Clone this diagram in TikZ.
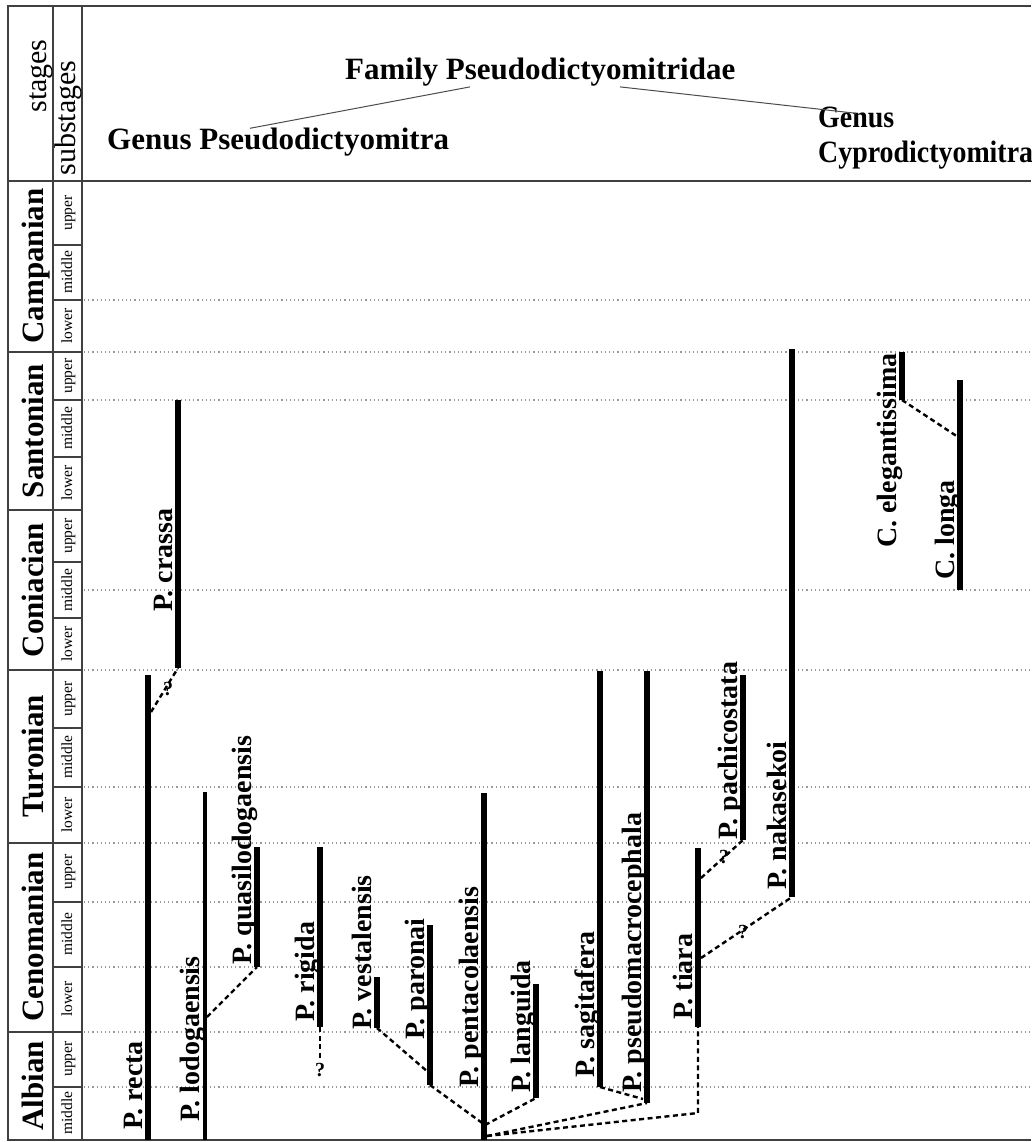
\documentclass[tikz,border=0pt]{standalone}
\usepackage{fontspec}
\setmainfont{Liberation Serif}

\tikzset{
  frame/.style={line width=2.2pt,black!75},
  level/.style={gray!80,line width=1.1pt,dash pattern=on 1.2pt off 3pt},
  bar/.style={line width=5.5pt},
  link/.style={line width=2.4pt,dash pattern=on 5pt off 3.5pt},
  tie/.style={line width=1pt,black!70},
  head/.style={inner sep=0pt,font=\fontsize{31}{33}\selectfont\bfseries},
  colhead/.style={rotate=90,anchor=base,inner sep=0pt,font=\fontsize{30}{32}\selectfont},
  stagelbl/.style={rotate=90,anchor=base,inner sep=0pt,font=\fontsize{31}{33}\selectfont\bfseries},
  sublbl/.style={rotate=90,anchor=base,inner sep=0pt,font=\fontsize{15.5}{16}\selectfont},
  taxon/.style={rotate=90,anchor=base west,inner sep=0pt,font=\fontsize{28}{30}\selectfont\bfseries},
  query/.style={inner sep=0pt,font=\fontsize{20}{21}\selectfont\bfseries},
}

\begin{document}
\begin{tikzpicture}[x=1pt,y=-1pt]
\useasboundingbox (0,0) rectangle (1031,1142);
\fill[white] (0,0) rectangle (1031,1142);

\foreach \y in {300,352,400,590,670,787,843,902,967,1032,1087}
  \draw[level] (84,\y) -- (1031,\y);

\draw[frame] (1031,6) -- (8,6) -- (8,1140) -- (1031,1140);
\draw[frame] (53,6) -- (53,1140);
\draw[frame] (82,6) -- (82,1140);
\draw[frame] (8,181) -- (1031,181);
\foreach \y in {352,510,670,843,1032}
  \draw[frame] (8,\y) -- (82,\y);
\foreach \y in {245,300,400,457,562,618,728,787,902,967,1087}
  \draw[frame] (53,\y) -- (82,\y);

\node[colhead] (stages) at (46,76) {stages};
\node[colhead] (substages) at (75,118) {substages};

\foreach \n/\y in {Campanian/266,Santonian/431,Coniacian/590,Turonian/756,Cenomanian/937,Albian/1086}
  \node[stagelbl] (\n) at (43,\y) {\n};

\foreach \y/\s in {213/upper,272/middle,326/lower,376/upper,428/middle,483/lower,
                   536/upper,590/middle,644/lower,699/upper,757/middle,815/lower,
                   872/upper,934/middle,999/lower,1059/upper,1113/middle}
  \node[sublbl] (sub-\y) at (72,\y) {\s};

\node[head,anchor=base west] (family) at (345,80) {Family Pseudodictyomitridae};
\node[head,anchor=base west] (gen1) at (107,150) {Genus Pseudodictyomitra};
\node[head,anchor=base west] (gen2a) at (818,128) {\scalebox{0.9}[1]{Genus}};
\node[head,anchor=base west] (gen2b) at (818,163) {\scalebox{0.9}[1]{Cyprodictyomitra}};
\draw[tie] ([xshift=125pt]family.south west) -- ([xshift=143pt]gen1.north west);
\draw[tie] ([xshift=275pt]family.south west) -- ([xshift=38pt,yshift=-6pt]gen2a.north west);

\coordinate (recta-t) at (148,675);   \coordinate (recta-b) at (148,1140);
\coordinate (crassa-t) at (178,400);  \coordinate (crassa-b) at (178,668);
\coordinate (lodo-t) at (205,792);    \coordinate (lodo-b) at (205,1140);
\coordinate (quasi-t) at (257,847);   \coordinate (quasi-b) at (257,967);
\coordinate (rigida-t) at (320,847);  \coordinate (rigida-b) at (320,1027);
\coordinate (vest-t) at (377,977);    \coordinate (vest-b) at (377,1028);
\coordinate (paronai-t) at (430,925); \coordinate (paronai-b) at (430,1085);
\coordinate (penta-t) at (484,793);   \coordinate (penta-b) at (484,1140);
\coordinate (lang-t) at (536,984);    \coordinate (lang-b) at (536,1098);
\coordinate (sagit-t) at (600,671);   \coordinate (sagit-b) at (600,1087);
\coordinate (pseudo-t) at (647,671);  \coordinate (pseudo-b) at (647,1103);
\coordinate (tiara-t) at (698,848);   \coordinate (tiara-b) at (698,1027);
\coordinate (pachi-t) at (743,675);   \coordinate (pachi-b) at (743,840);
\coordinate (naka-t) at (792,349);    \coordinate (naka-b) at (792,897);
\coordinate (eleg-t) at (902,352);    \coordinate (eleg-b) at (902,400);
\coordinate (longa-t) at (960,380);   \coordinate (longa-b) at (960,590);

\draw[bar] (recta-t) -- (recta-b);
\draw[bar] (crassa-t) -- (crassa-b);
\draw[bar,line width=3.8pt] (lodo-t) -- (lodo-b);
\draw[bar] (quasi-t) -- (quasi-b);
\draw[bar] (rigida-t) -- (rigida-b);
\draw[bar] (vest-t) -- (vest-b);
\draw[bar] (paronai-t) -- (paronai-b);
\draw[bar] (penta-t) -- (penta-b);
\draw[bar] (lang-t) -- (lang-b);
\draw[bar] (sagit-t) -- (sagit-b);
\draw[bar] (pseudo-t) -- (pseudo-b);
\draw[bar] (tiara-t) -- (tiara-b);
\draw[bar] (pachi-t) -- (pachi-b);
\draw[bar] (naka-t) -- (naka-b);
\draw[bar] (eleg-t) -- (eleg-b);
\draw[bar] (longa-t) -- (longa-b);

\node[taxon] (recta) at (142,1130) {P. recta};
\node[taxon] (crassa) at (172,612) {P. crassa};
\node[taxon] (lodo) at (199,1122) {P. lodogaensis};
\node[taxon] (quasi) at (251,965) {P. quasilodogaensis};
\node[taxon] (rigida) at (314,1022) {P. rigida};
\node[taxon] (vest) at (371,1030) {P. vestalensis};
\node[taxon] (paronai) at (424,1040) {P. paronai};
\node[taxon] (penta) at (478,1088) {P. pentacolaensis};
\node[taxon] (lang) at (530,1093) {P. languida};
\node[taxon] (sagit) at (594,1078) {P. sagitafera};
\node[taxon] (pseudo) at (641,1093) {P. pseudomacrocephala};
\node[taxon] (tiara) at (692,1020) {P. tiara};
\node[taxon] (pachi) at (737,840) {P. pachicostata};
\node[taxon] (naka) at (786,890) {P. nakasekoi};
\node[taxon] (eleg) at (896,548) {C. elegantissima};
\node[taxon] (longa) at (954,580) {C. longa};

\coordinate (recta-x) at (151,712);
\coordinate (lodo-x) at (207,1017);
\coordinate (rigida-x) at (320,1058);
\coordinate (paronai-x) at (428,1072);
\coordinate (penta-x1) at (485,1125);
\coordinate (penta-x2) at (487,1136);
\coordinate (pseudo-x) at (643,1099);
\coordinate (tiara-c) at (698,1113);
\coordinate (tiara-x1) at (701,878);
\coordinate (tiara-x2) at (701,958);
\coordinate (longa-x) at (958,437);

\draw[link] (recta-x) -- (crassa-b);
\node[query] (q1) at (168,689) {?};
\draw[link] (lodo-x) -- (quasi-b);
\draw[link] (rigida-b) -- (rigida-x);
\node[query] (q2) at (320,1070) {?};
\draw[link] (vest-b) -- (paronai-x);
\draw[link] (paronai-b) -- (penta-x1);
\draw[link] (penta-x1) -- (lang-b);
\draw[link] (sagit-b) -- (pseudo-x);
\draw[link] (penta-x2) -- (pseudo-b);
\draw[link] (penta-x2) -- (tiara-c) -- (tiara-b);
\draw[link] (tiara-x1) -- (pachi-b);
\node[query] (q3) at (724,857) {?};
\draw[link] (tiara-x2) -- (naka-b);
\node[query] (q4) at (743,932) {?};
\draw[link] (eleg-b) -- (longa-x);
\end{tikzpicture}
\end{document}
